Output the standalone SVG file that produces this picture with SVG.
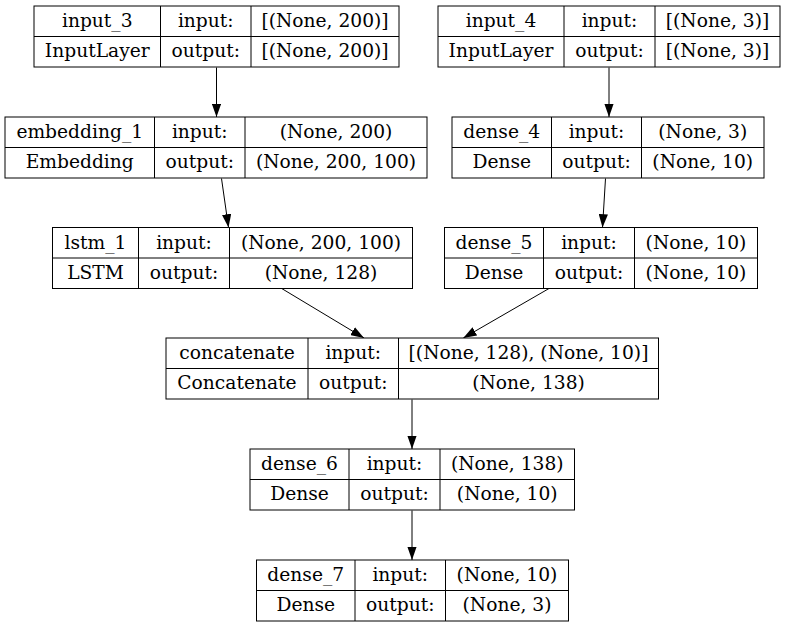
<svg xmlns="http://www.w3.org/2000/svg" width="785" height="627" viewBox="0 0 785 627">
<style>
.box rect{fill:#fff;stroke:#000;stroke-width:1}
.box line{stroke:#000;stroke-width:1}
text{font-family:"DejaVu Serif","Liberation Serif",serif;font-size:18.67px;text-anchor:middle;fill:#000}
.edge{stroke:#000;stroke-width:1;fill:none;marker-end:url(#arr)}
</style>
<defs>
<marker id="arr" viewBox="0 0 13.3 9.3" refX="13.3" refY="4.65" markerWidth="13.3" markerHeight="9.3" markerUnits="userSpaceOnUse" orient="auto">
<path d="M0,0 L13.3,4.65 L0,9.3 z" fill="#000"/>
</marker>
</defs>
<rect width="785" height="627" fill="#fff"/>
<g id="connectors">
<path class="edge" d="M216.5,67.5 L216.5,117"/>
<path class="edge" d="M221.5,178.5 L228.5,227.5"/>
<path class="edge" d="M609,67.5 L609,117"/>
<path class="edge" d="M605.5,178.5 L602.5,227.5"/>
<path class="edge" d="M281.7,288.5 L364,338"/>
<path class="edge" d="M549,288.5 L463.3,338"/>
<path class="edge" d="M412,399.5 L412,449"/>
<path class="edge" d="M412,510.5 L412,560"/>
</g>
<g id="input_3" class="box">
<rect x="34" y="6" width="365" height="61"/>
<line x1="34" y1="36.5" x2="399" y2="36.5"/>
<line x1="160.5" y1="6" x2="160.5" y2="67"/>
<line x1="251" y1="6" x2="251" y2="67"/>
<text x="97.25" y="27">input_3</text><text x="205.75" y="27">input:</text><text x="325" y="27">[(None, 200)]</text>
<text x="97.25" y="57">InputLayer</text><text x="205.75" y="57">output:</text><text x="325" y="57">[(None, 200)]</text>
</g>
<g id="input_4" class="box">
<rect x="438" y="6" width="342" height="61"/>
<line x1="438" y1="36.5" x2="780" y2="36.5"/>
<line x1="564" y1="6" x2="564" y2="67"/>
<line x1="655" y1="6" x2="655" y2="67"/>
<text x="501" y="27">input_4</text><text x="609.5" y="27">input:</text><text x="717.5" y="27">[(None, 3)]</text>
<text x="501" y="57">InputLayer</text><text x="609.5" y="57">output:</text><text x="717.5" y="57">[(None, 3)]</text>
</g>
<g id="embedding_1" class="box">
<rect x="5" y="117" width="422" height="61"/>
<line x1="5" y1="147.5" x2="427" y2="147.5"/>
<line x1="154.5" y1="117" x2="154.5" y2="178"/>
<line x1="245" y1="117" x2="245" y2="178"/>
<text x="79.75" y="138">embedding_1</text><text x="199.75" y="138">input:</text><text x="336" y="138">(None, 200)</text>
<text x="79.75" y="168">Embedding</text><text x="199.75" y="168">output:</text><text x="336" y="168">(None, 200, 100)</text>
</g>
<g id="dense_4" class="box">
<rect x="452" y="117" width="312" height="61"/>
<line x1="452" y1="147.5" x2="764" y2="147.5"/>
<line x1="551.5" y1="117" x2="551.5" y2="178"/>
<line x1="641.5" y1="117" x2="641.5" y2="178"/>
<text x="501.75" y="138">dense_4</text><text x="596.5" y="138">input:</text><text x="702.75" y="138">(None, 3)</text>
<text x="501.75" y="168">Dense</text><text x="596.5" y="168">output:</text><text x="702.75" y="168">(None, 10)</text>
</g>
<g id="lstm_1" class="box">
<rect x="52.5" y="227.5" width="360" height="61"/>
<line x1="52.5" y1="258" x2="412.5" y2="258"/>
<line x1="138.5" y1="227.5" x2="138.5" y2="288.5"/>
<line x1="229.5" y1="227.5" x2="229.5" y2="288.5"/>
<text x="95.5" y="248.5">lstm_1</text><text x="184" y="248.5">input:</text><text x="321" y="248.5">(None, 200, 100)</text>
<text x="95.5" y="278.5">LSTM</text><text x="184" y="278.5">output:</text><text x="321" y="278.5">(None, 128)</text>
</g>
<g id="dense_5" class="box">
<rect x="444.5" y="227.5" width="313" height="61"/>
<line x1="444.5" y1="258" x2="757.5" y2="258"/>
<line x1="543.5" y1="227.5" x2="543.5" y2="288.5"/>
<line x1="634.5" y1="227.5" x2="634.5" y2="288.5"/>
<text x="494" y="248.5">dense_5</text><text x="589" y="248.5">input:</text><text x="696" y="248.5">(None, 10)</text>
<text x="494" y="278.5">Dense</text><text x="589" y="278.5">output:</text><text x="696" y="278.5">(None, 10)</text>
</g>
<g id="concatenate" class="box">
<rect x="166" y="338" width="492.5" height="61"/>
<line x1="166" y1="368.5" x2="658.5" y2="368.5"/>
<line x1="308" y1="338" x2="308" y2="399"/>
<line x1="398.5" y1="338" x2="398.5" y2="399"/>
<text x="237" y="359">concatenate</text><text x="353.25" y="359">input:</text><text x="528.5" y="359">[(None, 128), (None, 10)]</text>
<text x="237" y="389">Concatenate</text><text x="353.25" y="389">output:</text><text x="528.5" y="389">(None, 138)</text>
</g>
<g id="dense_6" class="box">
<rect x="250" y="449" width="324.5" height="61"/>
<line x1="250" y1="479.5" x2="574.5" y2="479.5"/>
<line x1="349" y1="449" x2="349" y2="510"/>
<line x1="440" y1="449" x2="440" y2="510"/>
<text x="299.5" y="470">dense_6</text><text x="394.5" y="470">input:</text><text x="507.25" y="470">(None, 138)</text>
<text x="299.5" y="500">Dense</text><text x="394.5" y="500">output:</text><text x="507.25" y="500">(None, 10)</text>
</g>
<g id="dense_7" class="box">
<rect x="256.5" y="560" width="312" height="61"/>
<line x1="256.5" y1="590.5" x2="568.5" y2="590.5"/>
<line x1="355" y1="560" x2="355" y2="621"/>
<line x1="445.5" y1="560" x2="445.5" y2="621"/>
<text x="305.75" y="581">dense_7</text><text x="400.25" y="581">input:</text><text x="507" y="581">(None, 10)</text>
<text x="305.75" y="611">Dense</text><text x="400.25" y="611">output:</text><text x="507" y="611">(None, 3)</text>
</g>
</svg>
